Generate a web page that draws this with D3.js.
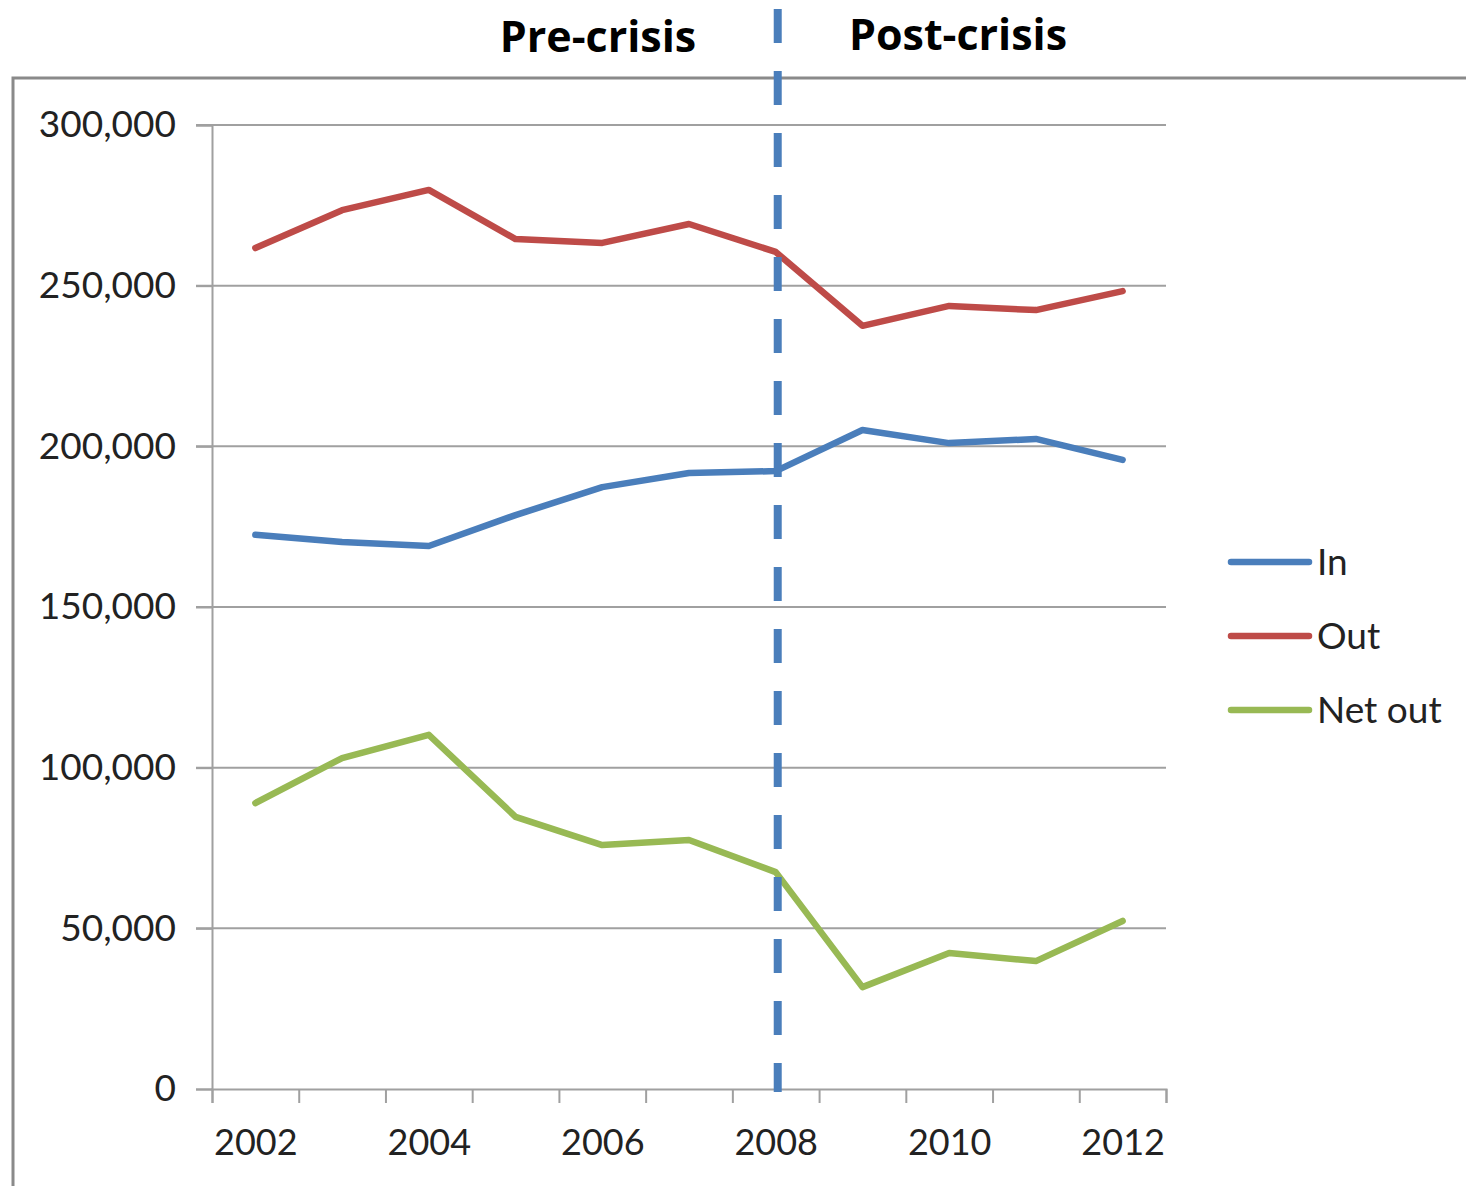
<!DOCTYPE html>
<html>
<head>
<meta charset="utf-8">
<script src="https://cdn.jsdelivr.net/npm/d3@7"></script>
<style>
  html, body { margin: 0; padding: 0; background: #fff; }
  svg { display: block; }
</style>
</head>
<body>
<svg id="chart" width="1466" height="1186"></svg>
<script>
const years = [2002, 2003, 2004, 2005, 2006, 2007, 2008, 2009, 2010, 2011, 2012];
const inValues = [172500, 170200, 169000, 178600, 187300, 191700, 192300, 205100, 201000, 202300, 195800];
const outValues = [261700, 273500, 279800, 264500, 263300, 269200, 260500, 237500, 243700, 242400, 248300];
const netOutValues = [89000, 103000, 110200, 84700, 75900, 77500, 67500, 31700, 42300, 39800, 52300];
const seriesNames = ["In", "Out", "Net out"];
const seriesColors = ["#4a7ebb", "#be4b48", "#98b954"];
const yTicks = [0, 50000, 100000, 150000, 200000, 250000, 300000];
const xLabelYears = [2002, 2004, 2006, 2008, 2010, 2012];
const crisisYear = 2008;
const periodLabels = ["Pre-crisis", "Post-crisis"];

const series = [inValues, outValues, netOutValues];
const svg = d3.select("#chart");
const font = "Lato, 'Open Sans', sans-serif";

const x = d3.scaleLinear().domain([years[0] - 0.5, years[years.length - 1] + 0.5]).range([212, 1166]);
const y = d3.scaleLinear().domain([0, 300000]).range([1089, 125]);

// outer frame (chart area border, cropped)
svg.append("path")
  .attr("d", "M13,1186 L13,78 L1466,78")
  .attr("fill", "none").attr("stroke", "#8a8a8a").attr("stroke-width", 3);

// gridlines
svg.append("g").selectAll("line").data(yTicks.filter(d => d > 0)).join("line")
  .attr("x1", 196).attr("x2", 1166)
  .attr("y1", d => y(d)).attr("y2", d => y(d))
  .attr("stroke", "#a0a0a0").attr("stroke-width", 2);

// y axis
const yAxis = svg.append("g").attr("transform", "translate(212,0)")
  .call(d3.axisLeft(y).tickValues(yTicks).tickSize(16).tickPadding(20)
    .tickFormat(d => d3.format(",")(d)));
yAxis.select(".domain").attr("stroke", "#a0a0a0").attr("stroke-width", 2);
yAxis.selectAll(".tick line").attr("stroke", "#a0a0a0").attr("stroke-width", 2);
yAxis.selectAll("text").attr("font-family", font).attr("font-size", 37).attr("fill", "#222");

// x axis: ticks at category boundaries
const bounds = d3.range(years.length + 1).map(i => years[0] - 0.5 + i);
const xAxis = svg.append("g").attr("transform", "translate(0,1089)")
  .call(d3.axisBottom(x).tickValues(bounds).tickSize(14).tickFormat(""));
xAxis.select(".domain").attr("stroke", "#a0a0a0").attr("stroke-width", 2);
xAxis.selectAll(".tick line").attr("stroke", "#a0a0a0").attr("stroke-width", 2);

const xLab = svg.append("g").attr("transform", "translate(0,1089)")
  .call(d3.axisBottom(x).tickValues(xLabelYears).tickSize(0).tickPadding(40).tickFormat(d3.format("d")));
xLab.select(".domain").remove();
xLab.selectAll("text").attr("font-family", font).attr("font-size", 36).attr("fill", "#222");

// lines
const line = d3.line().x((d, i) => x(years[i])).y(d => y(d));
series.forEach((vals, k) => {
  svg.append("path").datum(vals)
    .attr("d", line)
    .attr("fill", "none")
    .attr("stroke", seriesColors[k])
    .attr("stroke-width", 6.5)
    .attr("stroke-linejoin", "round")
    .attr("stroke-linecap", "round");
});

// crisis dashed line
const cx = x(crisisYear) + 2;
svg.append("line")
  .attr("x1", cx).attr("x2", cx).attr("y1", 9).attr("y2", 1092)
  .attr("stroke", "#4a7ebb").attr("stroke-width", 8)
  .attr("stroke-dasharray", "34 28");

// period labels
svg.append("text").attr("x", 598).attr("y", 52).attr("text-anchor", "middle")
  .attr("font-family", "'Open Sans', Lato, sans-serif").attr("font-weight", "bold").attr("font-size", 43)
  .attr("fill", "#000").text(periodLabels[0]);
svg.append("text").attr("x", 958).attr("y", 50).attr("text-anchor", "middle")
  .attr("font-family", "'Open Sans', Lato, sans-serif").attr("font-weight", "bold").attr("font-size", 43)
  .attr("fill", "#000").text(periodLabels[1]);

// legend
const legend = svg.append("g");
seriesNames.forEach((name, k) => {
  const ly = 562 + k * 74;
  legend.append("line").attr("x1", 1231).attr("x2", 1309).attr("y1", ly).attr("y2", ly)
    .attr("stroke", seriesColors[k]).attr("stroke-width", 6.5).attr("stroke-linecap", "round");
  legend.append("text").attr("x", 1317).attr("y", ly + 13)
    .attr("font-family", font).attr("font-size", 37).attr("fill", "#222").text(name);
});
</script>
</body>
</html>
